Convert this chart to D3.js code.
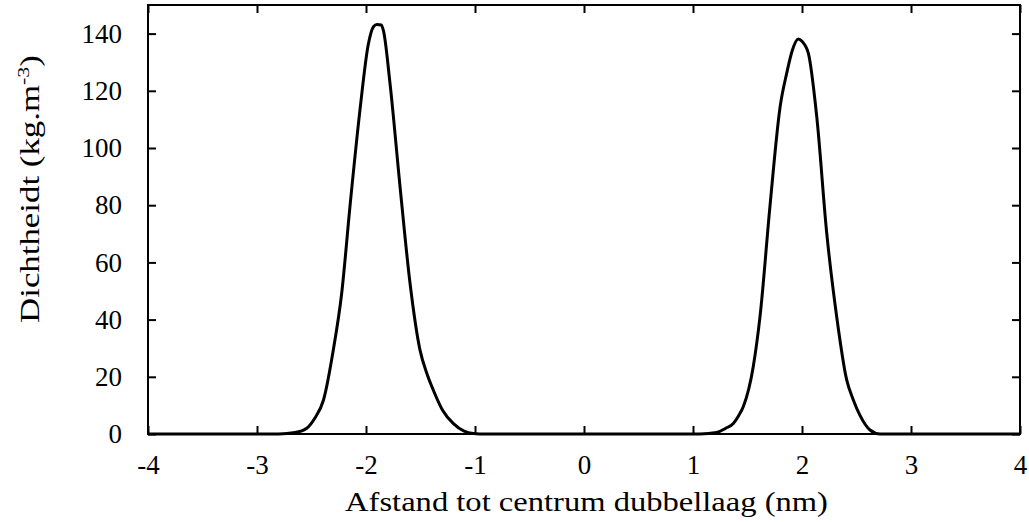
<!DOCTYPE html>
<html>
<head>
<meta charset="utf-8">
<script src="https://cdn.jsdelivr.net/npm/d3@7"></script>
<style>
  html, body { margin: 0; padding: 0; background: #fff; }
  svg text { font-family: "Liberation Serif", "DejaVu Serif", serif; fill: #000; }
</style>
</head>
<body>
<svg id="chart" width="1029" height="522"></svg>
<script>
// Distance to bilayer centre (nm) and density (kg.m^-3)
const distance = [-4.0, -2.80, -2.65, -2.544, -2.47, -2.39, -2.30, -2.223, -2.147, -2.055, -1.98, -1.93, -1.90, -1.86, -1.84, -1.78, -1.688, -1.596, -1.505, -1.44, -1.383, -1.30, -1.20, -1.10, -1.016, -0.9,
                  0.9, 1.064, 1.217, 1.30, 1.37, 1.42, 1.462, 1.553, 1.615, 1.706, 1.80, 1.86, 1.91, 1.966, 2.00, 2.058, 2.135, 2.227, 2.318, 2.41, 2.47, 2.532, 2.624, 2.716, 4.0];
const density  = [0, 0, 0.5, 2.0, 5.5, 11.9, 29.4, 49.2, 79.6, 113.4, 136, 142.5, 143.2, 143, 141, 122.7, 86.6, 52.7, 29.4, 21, 15.4, 8.5, 3.7, 1.0, 0.2, 0,
                  0, 0, 0.5, 2.0, 3.7, 6.5, 9.6, 23.6, 41.1, 79.6, 114.6, 126.2, 134, 138.1, 137.3, 133.2, 111.1, 70.2, 41.1, 18.9, 12, 6.5, 1.4, 0, 0];
const xTicks = [-4, -3, -2, -1, 0, 1, 2, 3, 4];
const yTicks = [0, 20, 40, 60, 80, 100, 120, 140];
const xTitle = "Afstand tot centrum dubbellaag (nm)";

const svg = d3.select("#chart");
const L = 148, R = 1020, T = 5, B = 434;
const x = d3.scaleLinear().domain([-4, 4]).range([L, R]);
const y = d3.scaleLinear().domain([0, 150]).range([B, T]);
const tickLen = 8, fs = 27;

// Curve
const pts = distance.map((d, i) => [d, density[i]]);
svg.append("path").datum(pts)
  .attr("fill", "none").attr("stroke", "#000").attr("stroke-width", 3).attr("stroke-linejoin", "round")
  .attr("d", d3.line().x(d => x(d[0])).y(d => y(d[1])).curve(d3.curveMonotoneX));

// Frame
svg.append("rect").attr("x", L).attr("y", T).attr("width", R - L).attr("height", B - T)
  .attr("fill", "none").attr("stroke", "#000").attr("stroke-width", 2);

const xb = svg.append("g").attr("transform", `translate(0,${B})`)
  .call(d3.axisBottom(x).tickValues(xTicks).tickSizeInner(-tickLen).tickSizeOuter(0).tickPadding(21).tickFormat(d3.format("d")));
const xt = svg.append("g").attr("transform", `translate(0,${T})`)
  .call(d3.axisTop(x).tickValues(xTicks).tickSizeInner(-tickLen).tickSizeOuter(0).tickFormat(""));
const yl = svg.append("g").attr("transform", `translate(${L},0)`)
  .call(d3.axisLeft(y).tickValues(yTicks).tickSizeInner(-tickLen).tickSizeOuter(0).tickPadding(26).tickFormat(d3.format("d")));
const yr = svg.append("g").attr("transform", `translate(${R},0)`)
  .call(d3.axisRight(y).tickValues(yTicks).tickSizeInner(-tickLen).tickSizeOuter(0).tickFormat(""));

[xb, xt, yl, yr].forEach(g => {
  g.select(".domain").remove();
  g.selectAll(".tick line").attr("stroke", "#000").attr("stroke-width", 2);
  g.selectAll(".tick text").attr("font-size", fs).attr("font-family", "Liberation Serif").attr("fill", "#000");
});
xb.selectAll(".tick text").text(d => d < 0 ? "-" + Math.abs(d) : d);

// X title, stretched horizontally to the reference width
const xg = svg.append("g");
const xtx = xg.append("text").attr("text-anchor", "middle").attr("font-size", fs).text(xTitle);
const xw = xtx.node().getComputedTextLength();
xg.attr("transform", `translate(${(345 + 828) / 2},511) scale(${483 / xw},1)`);

// Y title
const yg = svg.append("g");
const yt = yg.append("text").attr("text-anchor", "middle").attr("font-size", fs);
yt.append("tspan").text("Dichtheidt (kg.m");
yt.append("tspan").attr("font-size", 17).attr("dy", -10).text("-3");
yt.append("tspan").attr("dy", 10).text(")");
const yw = yt.node().getBBox().width;
yg.attr("transform", `translate(39,189) rotate(-90) scale(${268 / yw},1)`);
</script>
</body>
</html>
